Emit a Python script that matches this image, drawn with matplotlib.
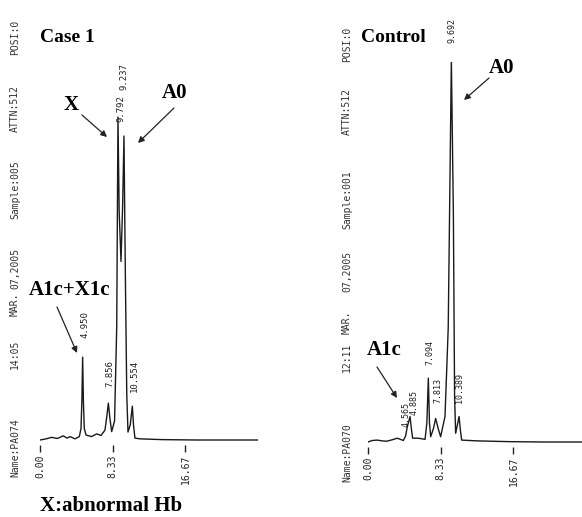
import matplotlib
matplotlib.use("Agg")
import matplotlib.pyplot as plt

W, H = 582, 517

# ---- data (retention time in min, detector signal in arbitrary units) ----
case_time = [0.0, 0.7, 1.34, 2.0, 2.67, 3.1, 3.44, 4.01, 4.51, 4.70, 4.80, 4.89,
             4.98, 5.08, 5.28, 5.9, 6.50, 7.0, 7.45, 7.65, 7.84, 8.00, 8.22, 8.55,
             8.80, 8.94, 9.08, 9.29, 9.48, 9.63, 9.78, 9.95, 10.09, 10.35, 10.59,
             10.72, 10.89, 11.47, 14.0, 18.0, 25.0]
case_signal = [0.0, 0.3, 0.7, 0.4, 1.1, 0.5, 0.9, 0.3, 0.9, 3.0, 10.0, 21.8,
               10.0, 3.0, 1.3, 0.9, 1.6, 1.2, 2.6, 6.0, 9.7, 6.0, 2.2, 5.0,
               30.0, 85.0, 60.0, 47.0, 62.0, 80.0, 45.0, 12.0, 2.1, 4.0, 8.9,
               4.0, 0.5, 0.3, 0.1, 0.0, 0.0]

ctrl_time = [0.0, 0.5, 1.07, 1.6, 2.14, 2.8, 3.36, 4.05, 4.30, 4.51, 4.82, 5.00,
             5.12, 5.77, 6.54, 6.75, 6.92, 7.05, 7.19, 7.50, 7.76, 8.05, 8.33,
             8.83, 9.20, 9.56, 9.79, 9.93, 10.05, 10.25, 10.44, 10.60, 10.74,
             12.47, 16.0, 20.0, 24.5]
ctrl_signal = [0.0, 0.4, 0.5, 0.3, 0.2, 0.6, 1.0, 0.4, 1.5, 4.0, 6.7, 3.0,
               1.0, 1.0, 0.7, 5.0, 16.8, 5.0, 1.4, 3.5, 6.2, 3.5, 1.4,
               6.7, 30.0, 100.5, 60.0, 12.0, 2.3, 4.5, 6.7, 3.0, 0.5,
               0.3, 0.1, 0.0, 0.0]

tick_values = [0.0, 8.33, 16.67]
tick_labels = ["0.00", "8.33", "16.67"]

case_peak_labels = ["4.950", "7.856", "10.554", "9.792", "9.237"]
case_peak_t = [5.16, 8.03, 10.78, 9.29, 9.63]
case_peak_s = [26.8, 13.9, 12.6, 83.7, 92.0]

ctrl_peak_labels = ["4.565", "4.885", "7.094", "7.813", "10.389", "9.692"]
ctrl_peak_t = [4.35, 5.25, 7.11, 8.03, 10.55, 9.63]
ctrl_peak_s = [4.0, 7.0, 20.3, 10.3, 10.3, 105.0]

case_header = ["POSI:0", "ATTN:512", "Sample:005", "07,2005", "MAR.", "14:05", "Name:PA074"]
ctrl_header = ["POSI:0", "ATTN:512", "Sample:001", "07,2005", "MAR.", "12:11", "Name:PA070"]

MONO = "DejaVu Sans Mono"
SERIF = "Liberation Serif"

fig = plt.figure(figsize=(W / 100, H / 100), dpi=100)
fig.patch.set_facecolor("white")


def px_axes(x0, y_top, w, h):
    return fig.add_axes([x0 / W, 1 - (y_top + h) / H, w / W, h / H])


def style_chrom(ax):
    ax.set_xlim(0, 25)
    ax.set_ylim(-1.316, 100)
    for sp in ax.spines.values():
        sp.set_visible(False)
    ax.set_yticks([])
    ax.set_xticks(tick_values)
    ax.set_xticklabels(tick_labels, rotation=90, fontfamily=MONO, fontsize=7,
                       color="#222222")
    ax.tick_params(axis="x", direction="out", length=5, width=1, pad=2,
                   color="#222222")
    ax.patch.set_alpha(0)


ax1 = px_axes(40, 60, 218, 385)
ax1.plot(case_time, case_signal, color="#1a1a1a", lw=1.0)
style_chrom(ax1)
for lab, t, s in zip(case_peak_labels, case_peak_t, case_peak_s):
    ax1.text(t, s, lab, rotation=90, ha="center", va="bottom",
             fontfamily=MONO, fontsize=6.5, color="#222222", clip_on=False)

ax2 = px_axes(368, 62, 218, 385)
ax2.plot(ctrl_time, ctrl_signal, color="#1a1a1a", lw=1.0)
style_chrom(ax2)
for lab, t, s in zip(ctrl_peak_labels, ctrl_peak_t, ctrl_peak_s):
    ax2.text(t, s, lab, rotation=90, ha="center", va="bottom",
             fontfamily=MONO, fontsize=6.0, color="#222222", clip_on=False)

# overlay in pixel coordinates for annotations
ov = fig.add_axes([0, 0, 1, 1])
ov.set_xlim(0, W)
ov.set_ylim(H, 0)
ov.axis("off")
ov.patch.set_alpha(0)

# vertical instrument header text
case_hdr_y = [20, 85, 160, 248, 292, 340, 418]
ctrl_hdr_y = [27, 88, 170, 251, 310, 343, 423]
for txt, y in zip(case_header, case_hdr_y):
    ov.text(15, y, txt, rotation=90, ha="center", va="top", fontfamily=MONO,
            fontsize=7, color="#333333")
for txt, y in zip(ctrl_header, ctrl_hdr_y):
    ov.text(347, y, txt, rotation=90, ha="center", va="top", fontfamily=MONO,
            fontsize=7, color="#333333")

bold = dict(fontfamily=SERIF, fontweight="bold", color="black")
ov.text(40, 42, "Case 1", fontsize=14, ha="left", va="baseline", **bold)
ov.text(361, 42, "Control", fontsize=14, ha="left", va="baseline", **bold)
ov.text(64, 110, "X", fontsize=15, ha="left", va="baseline", **bold)
ov.text(162, 98, "A0", fontsize=15, ha="left", va="baseline", **bold)
ov.text(29, 295, "A1c+X1c", fontsize=15, ha="left", va="baseline", **bold)
ov.text(489, 73, "A0", fontsize=15, ha="left", va="baseline", **bold)
ov.text(367, 355, "A1c", fontsize=15, ha="left", va="baseline", **bold)
ov.text(40, 511, "X:abnormal Hb", fontsize=15, ha="left", va="baseline", **bold)

arrows = [((82, 115), (107, 137)), ((174, 108), (138, 143)),
          ((57, 307), (77, 353)), ((489, 78), (464, 100)),
          ((377, 367), (397, 398))]
for (x0, y0), (x1, y1) in arrows:
    ov.annotate("", xy=(x1, y1), xytext=(x0, y0),
                arrowprops=dict(arrowstyle="-|>", color="#222222", lw=0.9,
                                mutation_scale=9, shrinkA=0, shrinkB=0))

fig.savefig("out.png", dpi=100, facecolor="white")
